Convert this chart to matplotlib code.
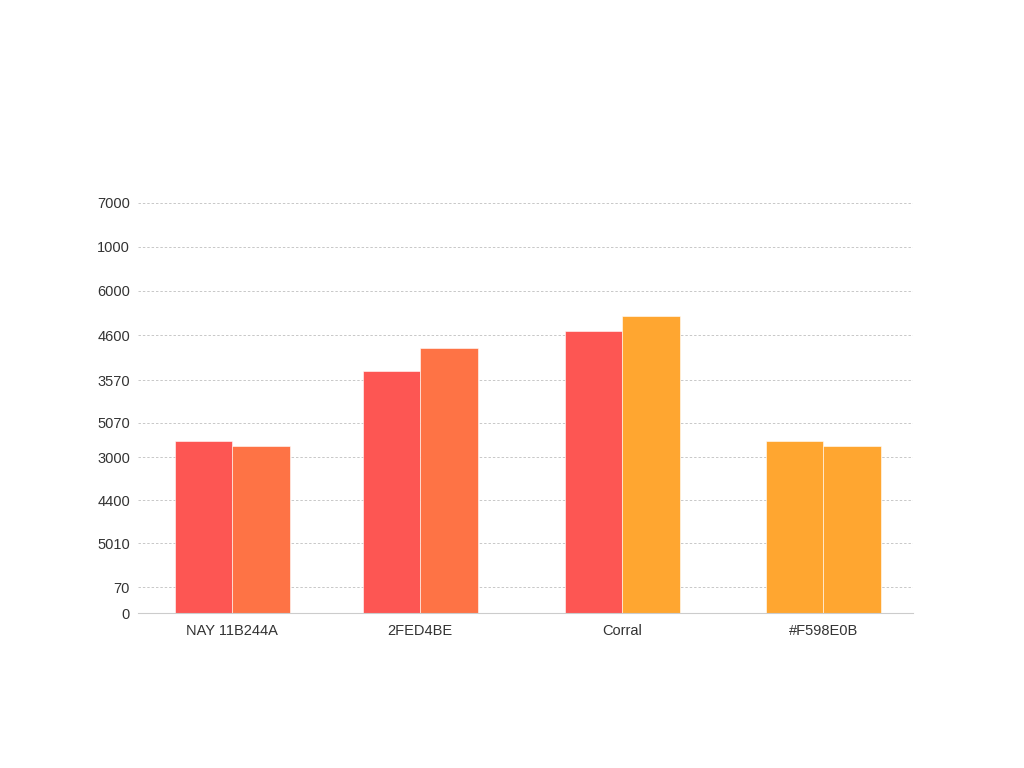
import matplotlib
matplotlib.use("Agg")
import matplotlib.pyplot as plt

plt.rcParams["font.family"] = ["Liberation Sans", "DejaVu Sans"]

# Data (values in axis units)
categories = ["NAY 11B244A", "2FED4BE", "Corral", "#F598E0B"]
series_a = [2937, 4132, 4815, 2937]
series_b = [2851, 4524, 5071, 2851]
colors_a = ["#FD5653", "#FD5653", "#FD5653", "#FFA630"]
colors_b = ["#FE7345", "#FE7345", "#FFA630", "#FFA630"]

tick_pos = [0, 444, 1195, 1929, 2663, 3244, 3978, 4746, 5498, 6249, 7000]
tick_lbl = ["0", "70", "5010", "4400", "3000", "5070", "3570", "4600", "6000", "1000", "7000"]

x = [0.0, 0.954, 1.980, 3.0]
w = 0.292

fig = plt.figure(figsize=(10.24, 7.68), dpi=100)
ax = fig.add_axes([0.135, 0.2018, 0.757, 0.5339])

ax.bar([p - w / 2 for p in x], series_a, w, color=colors_a, zorder=2,
       edgecolor="white", linewidth=0.4)
ax.bar([p + w / 2 for p in x], series_b, w, color=colors_b, zorder=2,
       edgecolor="white", linewidth=0.4)

ax.set_xlim(-0.477, 3.457)
ax.set_ylim(0, 7000)
ax.set_yticks(tick_pos)
ax.set_yticklabels(tick_lbl)
ax.set_xticks(x)
ax.set_xticklabels(categories)

for t in tick_pos[1:]:
    ax.axhline(t, color="#c8c8c8", lw=0.7, ls=(0, (2.5, 2)), zorder=0)

for s in ["top", "right", "left"]:
    ax.spines[s].set_visible(False)
ax.spines["bottom"].set_color("#cccccc")
ax.tick_params(axis="both", length=0, labelsize=10.5, colors="#333333")
ax.tick_params(axis="y", pad=6)
ax.tick_params(axis="x", pad=8)

fig.savefig("out.png", dpi=100, facecolor="white")
